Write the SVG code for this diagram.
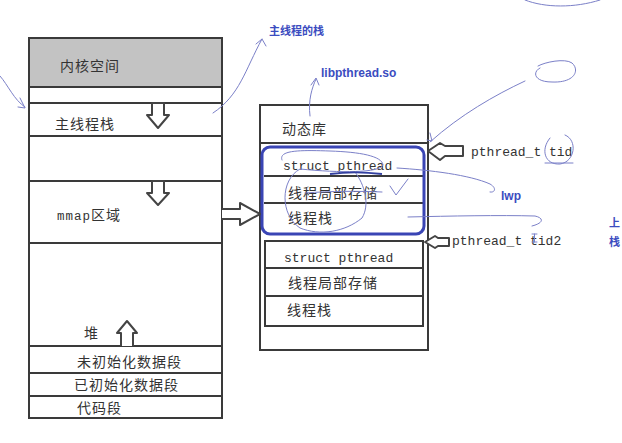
<svg xmlns="http://www.w3.org/2000/svg" width="622" height="443" viewBox="0 0 622 443">
<style>
.box{fill:#fff;stroke:#3a3a3a;stroke-width:2}
.ln{stroke:#3a3a3a;stroke-width:2;fill:none}
.cn{font-family:"Noto Sans CJK SC","Noto Sans",sans-serif;font-size:14px;fill:#333;letter-spacing:1px}
.mono{font-family:"Liberation Mono","DejaVu Sans Mono",monospace;font-size:13px;fill:#333}
.blue{font-family:"Liberation Sans","Noto Sans CJK SC",sans-serif;font-size:12px;font-weight:bold;fill:#3b4cc0}
.pen{fill:none;stroke:#7b80c8;stroke-width:1;stroke-linecap:round}
.blk{fill:#fff;stroke:#444;stroke-width:2;stroke-linejoin:round}
</style>
<rect width="622" height="443" fill="#fff"/>

<g id="process-memory">
  <rect class="box" x="29" y="38" width="193" height="380"/>
  <rect x="30" y="39" width="191" height="48" fill="#c3c3c3"/>
  <line class="ln" x1="29" y1="87" x2="222" y2="87"/>
  <line class="ln" x1="29" y1="103" x2="222" y2="103"/>
  <line class="ln" x1="29" y1="136" x2="222" y2="136"/>
  <line class="ln" x1="29" y1="181" x2="222" y2="181"/>
  <line class="ln" x1="29" y1="243" x2="222" y2="243"/>
  <line class="ln" x1="29" y1="346" x2="222" y2="346"/>
  <line class="ln" x1="29" y1="373" x2="222" y2="373"/>
  <line class="ln" x1="29" y1="396" x2="222" y2="396"/>
  <text class="cn" x="60" y="71">内核空间</text>
  <text class="cn" x="55" y="129">主线程栈</text>
  <text class="cn" x="57" y="220"><tspan class="mono" style="font-size:12.5px">mmap</tspan>区域</text>
  <text class="cn" x="84" y="338">堆</text>
  <text class="cn" x="77" y="367">未初始化数据段</text>
  <text class="cn" x="74" y="390">已初始化数据段</text>
  <text class="cn" x="77" y="413">代码段</text>
  <path class="blk" d="M152,103 H164 V115 H169 L158,128 L147,115 H152 Z"/>
  <path class="blk" d="M152,181 H164 V193 H169 L158,205 L147,193 H152 Z"/>
  <path class="blk" d="M121,346 V333 H117 L127,321 L137,333 H133 V346"/>
</g>

<g id="shared-lib">
  <rect class="box" x="260" y="105" width="168" height="245"/>
  <line class="ln" x1="260" y1="143" x2="428" y2="143"/>
  <text class="cn" x="282" y="134">动态库</text>
</g>

<g id="thread1">
  <line class="ln" x1="264" y1="176" x2="424" y2="176"/>
  <line class="ln" x1="264" y1="203" x2="424" y2="203"/>
  <text class="mono" x="283" y="170">struct pthread</text>
  <text class="cn" x="288" y="198">线程局部存储</text>
  <text class="cn" x="288" y="223">线程栈</text>
  <rect x="262" y="147" width="162" height="87" rx="8" fill="none" stroke="#3a45b5" stroke-width="3"/>
</g>

<g id="thread2">
  <rect class="box" x="265" y="241" width="158" height="85"/>
  <line class="ln" x1="265" y1="268" x2="423" y2="268"/>
  <line class="ln" x1="265" y1="296" x2="423" y2="296"/>
  <text class="mono" x="284" y="262">struct pthread</text>
  <text class="cn" x="288" y="288">线程局部存储</text>
  <text class="cn" x="287" y="315">线程栈</text>
</g>

<g id="tid-labels">
  <text class="mono" x="471" y="156">pthread_t tid</text>
  <text class="mono" x="452" y="245">pthread_t tid2</text>
</g>

<g id="annotations">
  <text class="blue" x="269" y="35" style="font-size:11px">主线程的栈</text>
  <text class="blue" x="321" y="77">libpthread.so</text>
  <text class="blue" x="501" y="200">lwp</text>
  <text class="blue" x="609" y="227" style="font-size:11px">上</text>
  <text class="blue" x="609" y="246" style="font-size:11px">栈</text>
</g>

<g id="connectors">
  <path class="blk" d="M222,209 H240 V203 L260,214 L240,225 V219 H222"/>
  <path class="blk" d="M463,146 V156 H445 L440,160 L428,151 L440,143 L445,146 Z"/>
  <path class="blk" d="M449,238 V246 H438 L435,248 L425,242 L435,236 L438,238 Z"/>
</g>

<g id="pen-strokes">
  <path class="pen" d="M0,76 C8,85 14,100 25,107 M20,98 L25,108 L18,107"/>
  <path class="pen" d="M213,113 C240,95 245,70 262,39 M256,44 L262,39 L266,46"/>
  <path class="pen" d="M310,116 C308,100 312,88 316,79 M311,85 L316,78 L319,85"/>
  <path class="pen" d="M430,142 C460,115 495,95 525,81 M430,133 L432,141 L427,140"/>
  <path class="pen" d="M540,68 C532,72 534,82 552,82 C575,83 580,70 572,63 C565,58 545,62 538,66"/>
  <path class="pen" d="M525,0 C545,8 575,8 600,0"/>
  <path class="pen" d="M550,138 C540,150 545,165 560,164 C575,162 578,140 565,135 M545,163 L573,163"/>
  <path class="pen" d="M397,168 C430,170 470,175 490,184 C497,188 495,193 490,192"/>
  <path class="pen" d="M282,160 C278,150 300,150 330,151 C360,152 382,156 383,165 C380,173 340,173 300,169 C280,180 280,215 300,228 C320,236 345,232 362,218 C370,205 365,185 355,172"/>
  <path fill="none" stroke="#3340a0" stroke-width="1.8" d="M330,174 C345,172 365,172 382,174"/>
  <path class="pen" d="M305,193 C330,191 360,191 382,192"/>
  <path class="pen" d="M390,186 L396,195 L408,179"/>
  <path class="pen" d="M408,217 C450,216 500,215 535,216 C544,218 544,223 532,226"/>
  <path class="pen" d="M532,234 L537,234 M534.5,234 L534.5,242 M532,242 L537,242"/>
</g>
</svg>
